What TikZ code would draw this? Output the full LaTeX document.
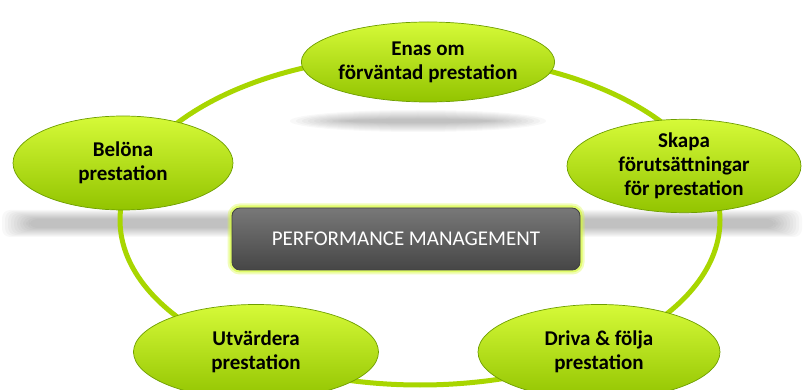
\documentclass[tikz,border=0pt]{standalone}
\usepackage{fontspec}
\setmainfont{Carlito}
\usetikzlibrary{shapes.geometric}

\definecolor{ringgreen}{RGB}{168,214,0}
\definecolor{lightgreen}{RGB}{214,250,56}
\definecolor{midgreen}{RGB}{182,232,0}
\definecolor{darkgreen}{RGB}{146,196,0}
\definecolor{edgegreen}{RGB}{110,158,0}
\definecolor{boxtop}{RGB}{120,120,120}
\definecolor{boxbot}{RGB}{70,70,70}

\begin{document}
\begin{tikzpicture}[x=1pt,y=-1pt,
  fas/.style={ellipse, inner sep=0pt, top color=lightgreen, middle color=midgreen,
    bottom color=darkgreen, draw=edgegreen, line width=0.7pt, align=center,
    font=\bfseries\fontsize{21}{24}\selectfont},
  pmbox/.style={rectangle, rounded corners=8pt, minimum width=348pt, minimum height=62pt,
    top color=boxtop, bottom color=boxbot, draw=black!75, line width=0.8pt, text=white,
    font=\fontsize{21}{24}\selectfont,
    preaction={draw=lightgreen, line width=9pt, opacity=0.35},
    preaction={draw=lightgreen, line width=5pt, opacity=0.6}},
  shad/.style={black, opacity=0.028}]
\useasboundingbox (0,0) rectangle (804,390);

\foreach \k in {0,...,9}
  \fill[shad, rounded corners=8pt] (2+3*\k,210+\k) rectangle (802-3*\k,237-\k);
\foreach \k in {0,...,9}
  \fill[shad] (418,121) ellipse ({128-6*\k} and {11-\k});

\coordinate (ringc) at (420,220);
\draw[ringgreen, line width=5pt] (ringc) ellipse (300 and 165);

\node[fas, minimum width=240pt, minimum height=80pt] (enas) at (428,62) {Enas om\\förväntad prestation};
\node[fas, minimum width=220pt, minimum height=94pt] (belona) at (123,163) {Belöna\\prestation};
\node[fas, minimum width=234pt, minimum height=90pt] (skapa) at (684,166) {Skapa\\förutsättningar\\för prestation};
\node[fas, minimum width=245pt, minimum height=95pt] (utvardera) at (256,352) {Utvärdera\\prestation};
\node[fas, minimum width=242pt, minimum height=95pt] (driva) at (599,352) {Driva \& följa\\prestation};

\node[pmbox] (pm) at (406,239) {PERFORMANCE MANAGEMENT};
\end{tikzpicture}
\end{document}
